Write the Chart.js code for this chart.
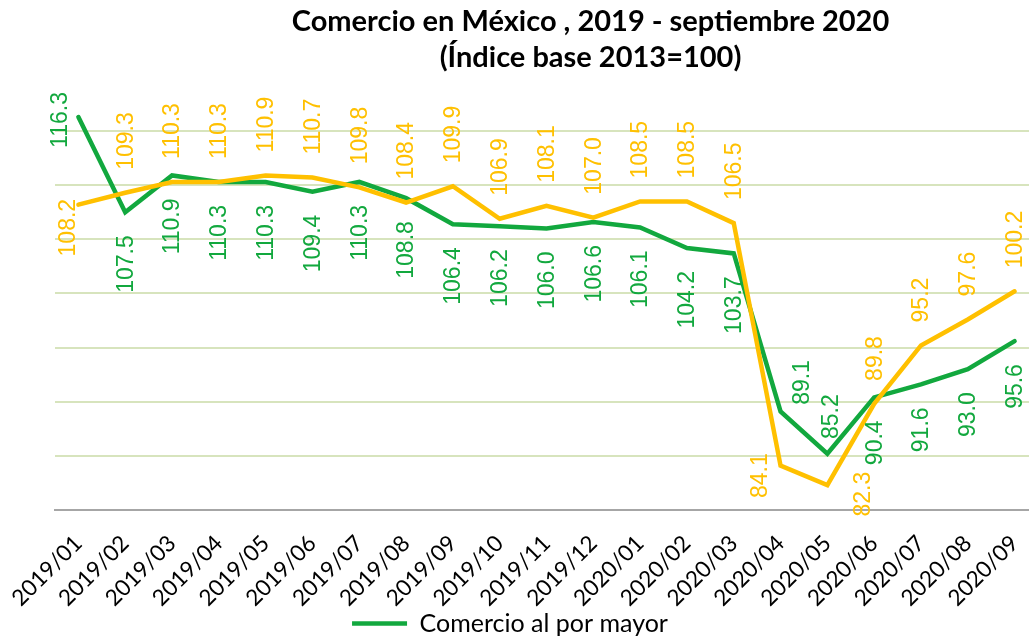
<!DOCTYPE html>
<html>
<head>
<meta charset="utf-8">
<script src="https://cdn.jsdelivr.net/npm/chart.js@4/dist/chart.umd.min.js"></script>
<style>
  html, body { margin: 0; padding: 0; background: #ffffff; overflow: hidden; }
  #wrap { width: 1029px; height: 640px; position: relative; overflow: hidden; }
  #c { display: block; }
</style>
</head>
<body>
<div id="wrap"><canvas id="c" width="1038" height="640"></canvas></div>
<script>
const categories = ['2019/01','2019/02','2019/03','2019/04','2019/05','2019/06','2019/07','2019/08','2019/09','2019/10','2019/11','2019/12','2020/01','2020/02','2020/03','2020/04','2020/05','2020/06','2020/07','2020/08','2020/09'];
const mayorValues = [116.3,107.5,110.9,110.3,110.3,109.4,110.3,108.8,106.4,106.2,106.0,106.6,106.1,104.2,103.7,89.1,85.2,90.4,91.6,93.0,95.6];
const menorValues = [108.2,109.3,110.3,110.3,110.9,110.7,109.8,108.4,109.9,106.9,108.1,107.0,108.5,108.5,106.5,84.1,82.3,89.8,95.2,97.6,100.2];
const seriesNames = ['Comercio al por mayor', 'Comercio al por menor'];
const titleLines = ['Comercio en México , 2019 - septiembre 2020', '(Índice base 2013=100)'];

// label placement (style): 'above' / 'below' / [dx, dy] offset of label centre
const mayorLabelPos = [[-19,3],'below','below','below','below','below','below','below','below','below','below','below','below','below','below',[21,-29],[3,-37],'below','below','below','below'];
const menorLabelPos = [[-11,23],'above','above','above','above','above','above','above','above','above','above','above','above','above','above',[-21,10],[35,9],'above','above','above','above'];

const GREEN = '#12A83E';
const GOLD = '#FFC000';

const labelPlugin = {
  id: 'rotLabels',
  afterDatasetsDraw(chart) {
    const ctx = chart.ctx;
    chart.data.datasets.forEach((ds, di) => {
      const meta = chart.getDatasetMeta(di);
      const places = ds._labelPos;
      ctx.save();
      ctx.font = '23px "Liberation Sans", Arial, sans-serif';
      ctx.fillStyle = ds.borderColor;
      ctx.textAlign = 'center';
      ctx.textBaseline = 'middle';
      meta.data.forEach((pt, i) => {
        const txt = ds.data[i].toFixed(1);
        const w = ctx.measureText(txt).width;
        const gap = 23;
        let cx = pt.x, cy = pt.y;
        const p = places[i];
        if (p === 'above') cy = pt.y - gap - w / 2;
        else if (p === 'below') cy = pt.y + gap + w / 2;
        else { cx = pt.x + p[0]; cy = pt.y + p[1]; }
        ctx.save();
        ctx.translate(cx, cy);
        ctx.rotate(-Math.PI / 2);
        ctx.fillText(txt, 0, 1);
        ctx.restore();
      });
      ctx.restore();
    });
  }
};

const blockShift = {
  id: 'blockShift',
  afterLayout(chart) {
    if (chart.titleBlock) {
      chart.titleBlock.left = 152;
      chart.titleBlock.right = 1029;
    }
    if (chart.legend) {
      chart.legend.left = 0;
      chart.legend.right = 1020;
      chart.legend.top += 6;
      chart.legend.bottom += 6;
    }
    if (chart.scales.x) {
      chart.scales.x.bottom += 25;
    }
  }
};

new Chart(document.getElementById('c'), {
  type: 'line',
  data: {
    labels: categories,
    datasets: [
      {
        label: seriesNames[0],
        data: mayorValues,
        borderColor: GREEN,
        backgroundColor: GREEN,
        borderWidth: 4.5,
        pointRadius: 0,
        tension: 0,
        borderCapStyle: 'round',
        borderJoinStyle: 'miter',
        order: 2,
        _labelPos: mayorLabelPos
      },
      {
        label: seriesNames[1],
        data: menorValues,
        borderColor: GOLD,
        backgroundColor: GOLD,
        borderWidth: 4.5,
        pointRadius: 0,
        tension: 0,
        borderCapStyle: 'round',
        borderJoinStyle: 'miter',
        order: 1,
        _labelPos: menorLabelPos
      }
    ]
  },
  options: {
    responsive: false,
    animation: false,
    devicePixelRatio: 1,
    layout: { padding: { left: 55, right: 0, top: 0, bottom: 0 } },
    plugins: {
      tooltip: { enabled: false },
      title: {
        display: true,
        text: titleLines,
        color: '#000000',
        font: { family: 'Lato, "Open Sans", sans-serif', size: 29, weight: 'bold', lineHeight: 1.24 },
        padding: { top: 4, bottom: 1 }
      },
      legend: {
        display: true,
        position: 'bottom',
        labels: {
          filter: (item) => item.datasetIndex === 0,
          usePointStyle: true,
          pointStyle: 'line',
          pointStyleWidth: 55,
          color: '#000000',
          font: { family: 'Lato, "Open Sans", sans-serif', size: 25 },
          padding: 4
        }
      }
    },
    scales: {
      x: {
        offset: true,
        grid: { display: false, drawTicks: false },
        border: { display: true, color: '#A6A6A6', width: 2 },
        ticks: {
          color: '#000000',
          font: { family: 'Lato, "Open Sans", sans-serif', size: 22.5 },
          maxRotation: 45,
          minRotation: 45,
          padding: 20,
          autoSkip: false
        },
        afterFit: (scale) => { scale.height = 91; scale.paddingLeft = 0; scale.paddingRight = 0; }
      },
      y: {
        min: 80,
        max: 120,
        ticks: { display: false, stepSize: 5 },
        border: { display: false },
        grid: {
          drawTicks: false,
          lineWidth: 2,
          color: (c) => (c.tick && (c.tick.value === 120 || c.tick.value === 80)) ? 'rgba(0,0,0,0)' : '#D7E4BD'
        },
        afterFit: (scale) => { scale.width = 0; }
      }
    }
  },
  plugins: [labelPlugin, blockShift]
});
</script>
</body>
</html>
